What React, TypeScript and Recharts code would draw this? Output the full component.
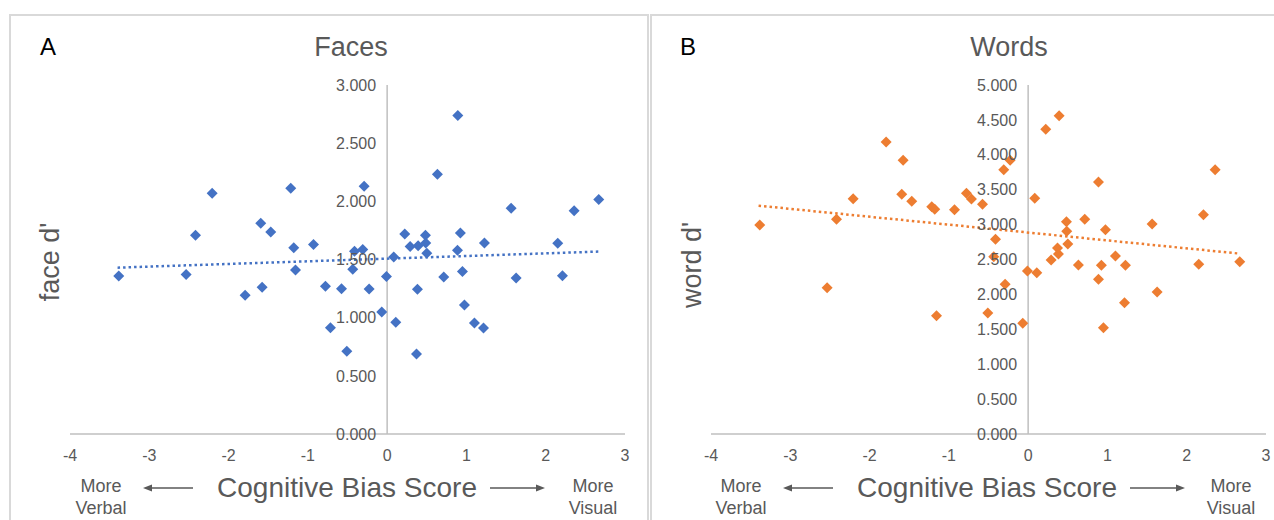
import React from "react";
import { ScatterChart, Scatter, XAxis, YAxis, ReferenceLine, ReferenceDot } from "recharts";

const biasScores = [
  -3.385, -2.535, -2.417, -2.207, -1.791, -1.594, -1.577, -1.468, -1.216, -1.178,
  -1.156, -0.929, -0.778, -0.715, -0.576, -0.509, -0.434, -0.412, -0.308, -0.29,
  -0.227, -0.068, -0.009, 0.083, 0.109, 0.222, 0.29, 0.37, 0.382, 0.391,
  0.483, 0.487, 0.5, 0.634, 0.714, 0.887, 0.891, 0.924, 0.95, 0.975,
  1.101, 1.215, 1.227, 1.564, 1.627, 2.152, 2.211, 2.358, 2.669,
];
const faceD = [
  1.359, 1.37, 1.708, 2.07, 1.193, 1.812, 1.261, 1.737, 2.112, 1.602,
  1.41, 1.628, 1.27, 0.914, 1.249, 0.711, 1.416, 1.571, 1.585, 2.13,
  1.247, 1.049, 1.353, 1.522, 0.96, 1.72, 1.611, 0.688, 1.244, 1.619,
  1.708, 1.642, 1.554, 2.233, 1.35, 1.579, 2.737, 1.728, 1.396, 1.109,
  0.954, 0.911, 1.642, 1.941, 1.341, 1.64, 1.361, 1.92, 2.015,
];
const wordBiasScores = [
  -3.385, -2.535, -2.417, -2.207, -1.791, -1.594, -1.577, -1.468, -1.216, -1.178,
  -1.156, -0.929, -0.778, -0.715, -0.576, -0.509, -0.434, -0.412, -0.308, -0.29,
  -0.227, -0.068, -0.009, 0.083, 0.109, 0.222, 0.29, 0.37, 0.382, 0.391,
  0.483, 0.487, 0.5, 0.634, 0.714, 0.887, 0.887, 0.924, 0.95, 0.975,
  1.101, 1.215, 1.227, 1.564, 1.627, 2.152, 2.211, 2.358, 2.669,
];
const wordD = [
  2.994, 2.096, 3.076, 3.371, 4.183, 3.434, 3.921, 3.334, 3.256, 3.219,
  1.695, 3.213, 3.448, 3.367, 3.291, 1.734, 2.54, 2.789, 3.787, 2.145,
  3.921, 1.586, 2.335, 3.376, 2.311, 4.365, 2.493, 2.665, 2.579, 4.56,
  3.042, 2.904, 2.722, 2.421, 3.076, 3.61, 2.216, 2.417, 1.523, 2.927,
  2.55, 1.881, 2.417, 3.009, 2.034, 2.431, 3.142, 3.787, 2.469,
];

const xTicks = [-4, -3, -2, -1, 0, 1, 2, 3];
const faceYTicks = [0, 0.5, 1, 1.5, 2, 2.5, 3];
const wordYTicks = [0, 0.5, 1, 1.5, 2, 2.5, 3, 3.5, 4, 4.5, 5];

const faceTrendX = [-3.4, 2.67];
const faceTrendY = [1.43, 1.568];
const wordTrendX = [-3.4, 2.67];
const wordTrendY = [3.271, 2.584];

const FONT = '"Liberation Sans", Arial, sans-serif';
const TEXT = "#595959";
const AXIS = "#BFBFBF";

const makeDiamond = (color: string) => (props: any) => {
  const { cx, cy } = props;
  if (cx == null || cy == null) return null;
  const r = 5.5;
  return (
    <polygon
      points={`${cx},${cy - r} ${cx + r},${cy} ${cx},${cy + r} ${cx - r},${cy}`}
      fill={color}
    />
  );
};

const Arrow = ({ x1, x2, y, left }: { x1: number; x2: number; y: number; left: boolean }) => (
  <svg
    style={{ position: "absolute", left: x1, top: y - 6, overflow: "visible" }}
    width={x2 - x1}
    height={12}
  >
    {left ? (
      <>
        <line x1={7} y1={6} x2={x2 - x1} y2={6} stroke={TEXT} strokeWidth={1.5} />
        <polygon points={`0,6 9,2.5 9,9.5`} fill={TEXT} />
      </>
    ) : (
      <>
        <line x1={0} y1={6} x2={x2 - x1 - 7} y2={6} stroke={TEXT} strokeWidth={1.5} />
        <polygon points={`${x2 - x1},6 ${x2 - x1 - 9},2.5 ${x2 - x1 - 9},9.5`} fill={TEXT} />
      </>
    )}
  </svg>
);

const centered = (cx: number, cy: number, extra: React.CSSProperties = {}): React.CSSProperties => ({
  position: "absolute",
  left: cx,
  top: cy,
  transform: "translate(-50%, -50%)",
  whiteSpace: "nowrap",
  lineHeight: 1,
  fontFamily: FONT,
  color: TEXT,
  ...extra,
});

type PanelProps = {
  left: number;
  letter: string;
  letterX: number;
  title: string;
  titleX: number;
  yLabel: string;
  yLabelX: number;
  yLabelY: number;
  xs: number[];
  ys: number[];
  yMax: number;
  yTicks: number[];
  color: string;
  trendX: number[];
  trendY: number[];
  xLabelX: number;
  verbalX: number;
  visualX: number;
  arrowL: [number, number];
  arrowR: [number, number];
};

const Panel = (p: PanelProps) => {
  const data = p.xs.map((x, i) => ({ x, y: p.ys[i] }));
  return (
    <div
      style={{
        position: "absolute",
        left: p.left,
        top: 14,
        width: 640,
        height: 520,
        boxSizing: "border-box",
        border: "2px solid #D9D9D9",
        borderBottom: "none",
        background: "#fff",
      }}
    >
      <div style={{ position: "absolute", left: 0, top: 0 }}>
        <ScatterChart width={636} height={504} margin={{ top: 69, right: 22, left: 59, bottom: 56 }}>
          <XAxis
            type="number"
            dataKey="x"
            domain={[-4, 3]}
            ticks={xTicks}
            interval={0}
            axisLine={{ stroke: AXIS, strokeWidth: 1.5 }}
            tickLine={false}
            tickSize={6}
            tickMargin={10}
            tick={{ fill: TEXT, fontSize: 16, fontFamily: FONT }}
            height={30}
          />
          <YAxis type="number" dataKey="y" domain={[0, p.yMax]} ticks={p.yTicks} hide width={0} />
          <ReferenceLine x={0} stroke={AXIS} strokeWidth={1.5} ifOverflow="visible" />
          {p.yTicks.map((t) => (
            <ReferenceDot
              key={t}
              x={0}
              y={t}
              r={0}
              fill="none"
              stroke="none"
              ifOverflow="visible"
              label={{
                value: t.toFixed(3),
                position: "left",
                offset: 11,
                fill: TEXT,
                fontSize: 16,
                fontFamily: FONT,
              }}
            />
          ))}
          <Scatter data={data} shape={makeDiamond(p.color)} isAnimationActive={false} />
          <ReferenceLine
            segment={[
              { x: p.trendX[0], y: p.trendY[0] },
              { x: p.trendX[1], y: p.trendY[1] },
            ]}
            stroke={p.color}
            strokeWidth={2.5}
            strokeDasharray="2.5 3"
            ifOverflow="visible"
          />
        </ScatterChart>
      </div>
      <div style={{ position: "absolute", left: p.letterX, top: 31, transform: "translateY(-50%)", lineHeight: 1, fontFamily: FONT, fontSize: 24, color: "#000" }}>
        {p.letter}
      </div>
      <div style={centered(p.titleX, 31, { fontSize: 27 })}>{p.title}</div>
      <div style={centered(p.yLabelX, p.yLabelY, { fontSize: 27, transform: "translate(-50%, -50%) rotate(-90deg)" })}>
        {p.yLabel}
      </div>
      <div style={centered(p.xLabelX, 472, { fontSize: 28 })}>Cognitive Bias Score</div>
      <div style={centered(p.verbalX, 481, { fontSize: 18, lineHeight: "22px", textAlign: "center" })}>
        More
        <br />
        Verbal
      </div>
      <div style={centered(p.visualX, 481, { fontSize: 18, lineHeight: "22px", textAlign: "center" })}>
        More
        <br />
        Visual
      </div>
      <Arrow x1={p.arrowL[0]} x2={p.arrowL[1]} y={472} left />
      <Arrow x1={p.arrowR[0]} x2={p.arrowR[1]} y={472} left={false} />
    </div>
  );
};

export default function App() {
  return (
    <>
      <style>{`body{margin:0;}`}</style>
      <div style={{ position: "relative", width: 1274, height: 520, overflow: "hidden", background: "#fff" }}>
        <Panel
          left={9}
          letter="A"
          letterX={29}
          title="Faces"
          titleX={340}
          yLabel="face d'"
          yLabelX={39}
          yLabelY={246}
          xs={biasScores}
          ys={faceD}
          yMax={3}
          yTicks={faceYTicks}
          color="#4472C4"
          trendX={faceTrendX}
          trendY={faceTrendY}
          xLabelX={336}
          verbalX={90}
          visualX={582}
          arrowL={[132, 182]}
          arrowR={[479, 534]}
        />
        <Panel
          left={650}
          letter="B"
          letterX={28}
          title="Words"
          titleX={357}
          yLabel="word d'"
          yLabelX={40}
          yLabelY={249}
          xs={wordBiasScores}
          ys={wordD}
          yMax={5}
          yTicks={wordYTicks}
          color="#ED7D31"
          trendX={wordTrendX}
          trendY={wordTrendY}
          xLabelX={335}
          verbalX={89}
          visualX={579}
          arrowL={[131, 181]}
          arrowR={[478, 533]}
        />
      </div>
    </>
  );
}
